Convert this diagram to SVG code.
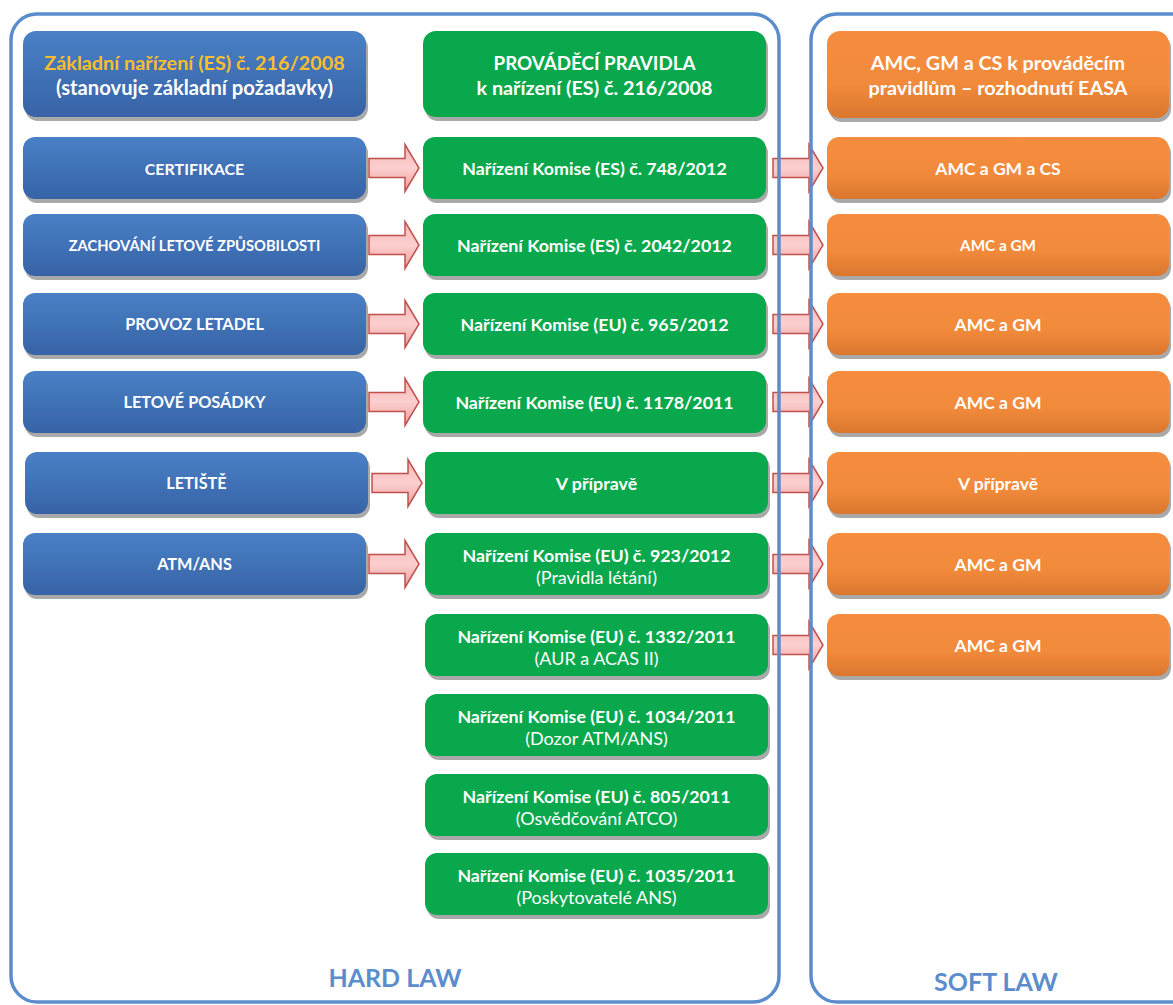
<svg xmlns="http://www.w3.org/2000/svg" width="1173" height="1005" viewBox="0 0 1173 1005">
<defs>
<linearGradient id="gb" x1="0" y1="0" x2="0" y2="1"><stop offset="0" stop-color="#4A80C6"/><stop offset="1" stop-color="#3763A6"/></linearGradient>
<linearGradient id="go" x1="0" y1="0" x2="0" y2="1"><stop offset="0" stop-color="#F68D3E"/><stop offset="0.6" stop-color="#F28A3B"/><stop offset="1" stop-color="#DA772E"/></linearGradient>
<linearGradient id="ga" x1="0" y1="0" x2="0" y2="1"><stop offset="0" stop-color="#F6B5B4"/><stop offset="0.5" stop-color="#FBD0CF"/><stop offset="1" stop-color="#EE9C9A"/></linearGradient>
<style>
.sh{fill:#8c8c8c;opacity:.75}
.b{fill:url(#gb)}
.g{fill:#0AA84C}
.o{fill:url(#go)}
.t{font-family:Lato,"Open Sans","Liberation Sans",sans-serif;font-weight:bold;fill:#fff;text-anchor:middle}
.r{font-family:Lato,"Open Sans","Liberation Sans",sans-serif;font-weight:normal;fill:#fff;text-anchor:middle;font-size:18px}
.bl{font-size:16.3px}
.gt{font-size:17.8px}
.ot{font-size:17.5px}
.hd{font-size:19.8px}
.arr{fill:url(#ga);stroke:#C0504D;stroke-width:1.5}
.fr{fill:none;stroke:#5B8DCD;stroke-width:3.5}
.law{font-family:Lato,"Open Sans","Liberation Sans",sans-serif;font-weight:bold;fill:#5B8DCD;text-anchor:middle;font-size:25px}
</style>
</defs>

<g id="node-blue-header"><rect class="sh" x="25" y="35" width="343" height="86" rx="13"/><rect class="b" x="23" y="31" width="343" height="86" rx="13"/><text class="t hd" x="194.5" y="70" style="fill:#F9BE2E">Základní nařízení (ES) č. 216/2008</text><text class="t" x="194.5" y="95" font-size="20.2">(stanovuje základní požadavky)</text></g>
<g id="node-green-header"><rect class="sh" x="425" y="35" width="343" height="86" rx="13"/><rect class="g" x="423" y="31" width="343" height="86" rx="13"/><text class="t" x="594.5" y="70" font-size="18.8">PROVÁDĚCÍ PRAVIDLA</text><text class="t hd" x="594.5" y="95">k nařízení (ES) č. 216/2008</text></g>
<g id="node-orange-header"><rect class="sh" x="829" y="35" width="342" height="87" rx="13"/><rect class="o" x="827" y="31" width="342" height="87" rx="13"/><text class="t hd" x="998" y="70">AMC, GM a CS k prováděcím</text><text class="t hd" x="998" y="95">pravidlům – rozhodnutí EASA</text></g>

<g id="node-b1"><rect class="sh" x="25" y="141" width="343" height="62" rx="12"/><rect class="b" x="23" y="137" width="343" height="62" rx="12"/><text class="t" x="194.5" y="175" font-size="16">CERTIFIKACE</text></g>
<g id="node-b2"><rect class="sh" x="25" y="218" width="343" height="62" rx="12"/><rect class="b" x="23" y="214" width="343" height="62" rx="12"/><text class="t" x="194.5" y="251" font-size="14.7">ZACHOVÁNÍ LETOVÉ ZPŮSOBILOSTI</text></g>
<g id="node-b3"><rect class="sh" x="25" y="297" width="343" height="62" rx="12"/><rect class="b" x="23" y="293" width="343" height="62" rx="12"/><text class="t bl" x="194.5" y="330">PROVOZ LETADEL</text></g>
<g id="node-b4"><rect class="sh" x="25" y="375" width="343" height="62" rx="12"/><rect class="b" x="23" y="371" width="343" height="62" rx="12"/><text class="t bl" x="194.5" y="408">LETOVÉ POSÁDKY</text></g>
<g id="node-b5"><rect class="sh" x="27" y="456" width="343" height="62" rx="12"/><rect class="b" x="25" y="452" width="343" height="62" rx="12"/><text class="t bl" x="196.5" y="489">LETIŠTĚ</text></g>
<g id="node-b6"><rect class="sh" x="25" y="537" width="343" height="62" rx="12"/><rect class="b" x="23" y="533" width="343" height="62" rx="12"/><text class="t bl" x="194.5" y="570">ATM/ANS</text></g>

<g id="node-g1"><rect class="sh" x="425" y="141" width="343" height="62" rx="12"/><rect class="g" x="423" y="137" width="343" height="62" rx="12"/><text class="t gt" x="594.5" y="174.5">Nařízení Komise (ES) č. 748/2012</text></g>
<g id="node-g2"><rect class="sh" x="425" y="218" width="343" height="62" rx="12"/><rect class="g" x="423" y="214" width="343" height="62" rx="12"/><text class="t gt" x="594.5" y="251.5">Nařízení Komise (ES) č. 2042/2012</text></g>
<g id="node-g3"><rect class="sh" x="425" y="297" width="343" height="62" rx="12"/><rect class="g" x="423" y="293" width="343" height="62" rx="12"/><text class="t gt" x="594.5" y="330.5">Nařízení Komise (EU) č. 965/2012</text></g>
<g id="node-g4"><rect class="sh" x="425" y="375" width="343" height="62" rx="12"/><rect class="g" x="423" y="371" width="343" height="62" rx="12"/><text class="t gt" x="594.5" y="408.5">Nařízení Komise (EU) č. 1178/2011</text></g>
<g id="node-g5"><rect class="sh" x="427" y="456" width="343" height="62" rx="12"/><rect class="g" x="425" y="452" width="343" height="62" rx="12"/><text class="t gt" x="596.5" y="489.5">V přípravě</text></g>
<g id="node-g6"><rect class="sh" x="427" y="537" width="343" height="62" rx="12"/><rect class="g" x="425" y="533" width="343" height="62" rx="12"/><text class="t gt" x="596.5" y="562">Nařízení Komise (EU) č. 923/2012</text><text class="r" x="596.5" y="584">(Pravidla létání)</text></g>
<g id="node-g7"><rect class="sh" x="427" y="618" width="343" height="62" rx="12"/><rect class="g" x="425" y="614" width="343" height="62" rx="12"/><text class="t gt" x="596.5" y="643">Nařízení Komise (EU) č. 1332/2011</text><text class="r" x="596.5" y="665">(AUR a ACAS II)</text></g>
<g id="node-g8"><rect class="sh" x="427" y="698" width="343" height="62" rx="12"/><rect class="g" x="425" y="694" width="343" height="62" rx="12"/><text class="t gt" x="596.5" y="723">Nařízení Komise (EU) č. 1034/2011</text><text class="r" x="596.5" y="745">(Dozor ATM/ANS)</text></g>
<g id="node-g9"><rect class="sh" x="427" y="778" width="343" height="62" rx="12"/><rect class="g" x="425" y="774" width="343" height="62" rx="12"/><text class="t gt" x="596.5" y="803">Nařízení Komise (EU) č. 805/2011</text><text class="r" x="596.5" y="825">(Osvědčování ATCO)</text></g>
<g id="node-g10"><rect class="sh" x="427" y="857" width="343" height="62" rx="12"/><rect class="g" x="425" y="853" width="343" height="62" rx="12"/><text class="t gt" x="596.5" y="882">Nařízení Komise (EU) č. 1035/2011</text><text class="r" x="596.5" y="904">(Poskytovatelé ANS)</text></g>

<g id="node-o1"><rect class="sh" x="829" y="141" width="342" height="62" rx="12"/><rect class="o" x="827" y="137" width="342" height="62" rx="12"/><text class="t ot" x="998" y="174.5">AMC a GM a CS</text></g>
<g id="node-o2"><rect class="sh" x="829" y="218" width="342" height="62" rx="12"/><rect class="o" x="827" y="214" width="342" height="62" rx="12"/><text class="t" x="998" y="251" font-size="15.3">AMC a GM</text></g>
<g id="node-o3"><rect class="sh" x="829" y="297" width="342" height="62" rx="12"/><rect class="o" x="827" y="293" width="342" height="62" rx="12"/><text class="t ot" x="998" y="330.5">AMC a GM</text></g>
<g id="node-o4"><rect class="sh" x="829" y="375" width="342" height="62" rx="12"/><rect class="o" x="827" y="371" width="342" height="62" rx="12"/><text class="t ot" x="998" y="408.5">AMC a GM</text></g>
<g id="node-o5"><rect class="sh" x="829" y="456" width="342" height="62" rx="12"/><rect class="o" x="827" y="452" width="342" height="62" rx="12"/><text class="t ot" x="998" y="489.5">V přípravě</text></g>
<g id="node-o6"><rect class="sh" x="829" y="537" width="342" height="62" rx="12"/><rect class="o" x="827" y="533" width="342" height="62" rx="12"/><text class="t ot" x="998" y="570.5">AMC a GM</text></g>
<g id="node-o7"><rect class="sh" x="829" y="618" width="342" height="62" rx="12"/><rect class="o" x="827" y="614" width="342" height="62" rx="12"/><text class="t ot" x="998" y="651.5">AMC a GM</text></g>

<g id="connectors">
<path class="arr" d="M369,158.5 h36 v-14 l14,23.5 l-14,23.5 v-14 h-36 z"/>
<path class="arr" d="M369,235.5 h36 v-14 l14,23.5 l-14,23.5 v-14 h-36 z"/>
<path class="arr" d="M369,314.5 h36 v-14 l14,23.5 l-14,23.5 v-14 h-36 z"/>
<path class="arr" d="M369,392.5 h36 v-14 l14,23.5 l-14,23.5 v-14 h-36 z"/>
<path class="arr" d="M372,473.5 h36 v-14 l14,23.5 l-14,23.5 v-14 h-36 z"/>
<path class="arr" d="M369,554.5 h36 v-14 l14,23.5 l-14,23.5 v-14 h-36 z"/>
<path class="arr" d="M773,158.5 h36 v-14 l14,23.5 l-14,23.5 v-14 h-36 z"/>
<path class="arr" d="M773,235.5 h36 v-14 l14,23.5 l-14,23.5 v-14 h-36 z"/>
<path class="arr" d="M773,314.5 h36 v-14 l14,23.5 l-14,23.5 v-14 h-36 z"/>
<path class="arr" d="M773,392.5 h36 v-14 l14,23.5 l-14,23.5 v-14 h-36 z"/>
<path class="arr" d="M773,473.5 h36 v-14 l14,23.5 l-14,23.5 v-14 h-36 z"/>
<path class="arr" d="M773,554.5 h36 v-14 l14,23.5 l-14,23.5 v-14 h-36 z"/>
<path class="arr" d="M773,635.5 h36 v-14 l14,23.5 l-14,23.5 v-14 h-36 z"/>
</g>

<g id="frame-hard"><rect class="fr" x="11" y="14" width="768" height="988" rx="26"/><text class="law" x="395" y="987">HARD LAW</text></g>
<g id="frame-soft"><rect class="fr" x="811" y="14" width="390" height="988" rx="26"/><text class="law" x="996" y="991">SOFT LAW</text></g>
</svg>
